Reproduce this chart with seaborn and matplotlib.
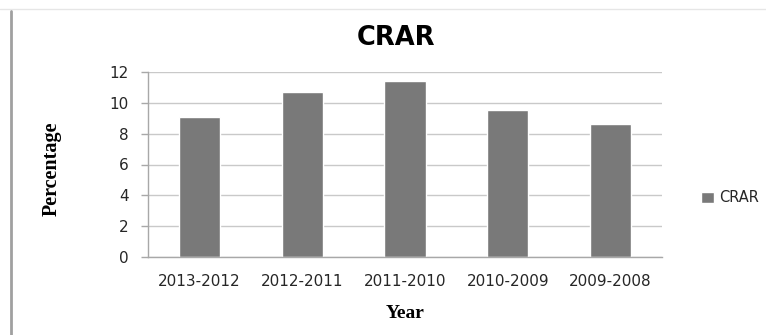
import matplotlib
matplotlib.use("Agg")
import matplotlib.pyplot as plt
from matplotlib.lines import Line2D
import seaborn as sns
import pandas as pd

# CRAR by financial year
years = ["2013-2012", "2012-2011", "2011-2010", "2010-2009", "2009-2008"]
crar = [9.05, 10.7, 11.4, 9.55, 8.6]
y_ticks = [0, 2, 4, 6, 8, 10, 12]

df = pd.DataFrame({"Year": years, "CRAR": crar})

sns.set_style("white")
plt.rcParams["font.family"] = ["DejaVu Sans"]

fig = plt.figure(figsize=(7.66, 3.35), dpi=100)
ax = fig.add_axes([148 / 766, 1 - 257 / 335, (662 - 148) / 766, (257 - 72) / 335])

sns.barplot(data=df, x="Year", y="CRAR", color="#797979", saturation=1,
            width=0.4, label="CRAR", ax=ax)

ax.set_ylim(0, 12)
ax.set_yticks(y_ticks)
ax.set_xlabel("")
ax.set_ylabel("")
ax.set_axisbelow(True)
ax.yaxis.grid(True, color="#c9c9c9", linewidth=1)
ax.xaxis.grid(False)

for side in ("top", "right"):
    ax.spines[side].set_visible(False)
for side in ("left", "bottom"):
    ax.spines[side].set_color("#a8a8a8")
    ax.spines[side].set_linewidth(1)

ax.tick_params(axis="y", which="major", left=True, length=5, width=1,
               color="#a8a8a8", pad=9, labelsize=11, labelcolor="#262626")
ax.tick_params(axis="x", which="major", bottom=False, length=0, pad=12,
               labelsize=11, labelcolor="#262626")

# chart title and axis titles
fig.text(396 / 766, 1 - 38 / 335, "CRAR", ha="center", va="center",
         fontsize=18.5, fontweight="bold", color="black")
fig.text(405 / 766, 1 - 313 / 335, "Year", ha="center", va="center",
         fontsize=14, fontweight="bold", family="Liberation Serif", color="black")
fig.text(52 / 766, 1 - 169 / 335, "Percentage", ha="center", va="center",
         rotation=90, fontsize=14.5, fontweight="bold", family="Liberation Serif",
         color="black")

ax.legend(loc="center left", bbox_to_anchor=(694 / 766, 1 - 198 / 335),
          bbox_transform=fig.transFigure, frameon=False, borderpad=0,
          handlelength=0.85, handleheight=0.85, handletextpad=0.35,
          fontsize=10.5, labelcolor="#262626")

# outer chart frame
fig.add_artist(Line2D([0, 1], [1 - 9 / 335, 1 - 9 / 335], transform=fig.transFigure,
                      color="#e6e6e6", linewidth=1))
fig.add_artist(Line2D([10.5 / 766, 10.5 / 766], [0, 1 - 11 / 335], transform=fig.transFigure,
                      color="#a0a0a0", linewidth=2))

fig.savefig("out.png", dpi=100, facecolor="white")
